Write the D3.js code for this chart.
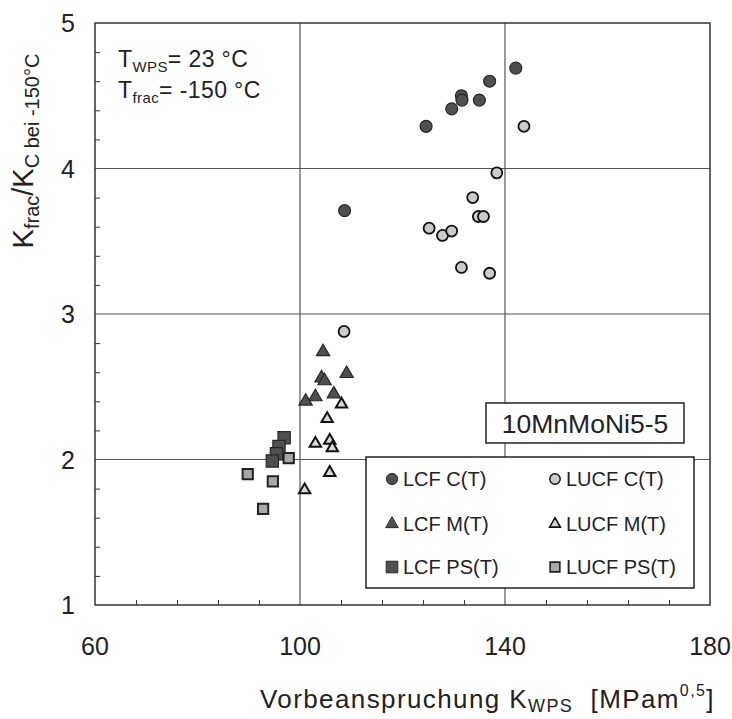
<!DOCTYPE html>
<html>
<head>
<meta charset="utf-8">
<script src="https://cdn.jsdelivr.net/npm/d3@7/dist/d3.min.js"></script>
<style>
  html, body { margin: 0; padding: 0; background: #fff; }
  svg { display: block; font-family: "Liberation Sans", Arial, Helvetica, sans-serif; }
</style>
</head>
<body>
<svg id="chart" width="732" height="719"></svg>
<script>
// ---------- data ----------
const xTicks = [60, 100, 140, 180];
const yTicks = [1, 2, 3, 4, 5];
const xMinorTicks = [68, 76, 84, 92, 108, 116, 124, 132, 148, 156, 164, 172];
const yMinorTicks = [1.2, 1.4, 1.6, 1.8, 2.2, 2.4, 2.6, 2.8, 3.2, 3.4, 3.6, 3.8, 4.2, 4.4, 4.6, 4.8];

const lcfC = [[142.1, 4.69], [137.0, 4.60], [131.5, 4.50], [131.6, 4.47], [135.0, 4.47],
              [129.6, 4.41], [124.6, 4.29], [108.7, 3.71]];
const lucfC = [[143.7, 4.29], [138.4, 3.97], [133.7, 3.80], [134.8, 3.67], [135.8, 3.67],
               [125.2, 3.59], [127.8, 3.54], [129.6, 3.57], [131.5, 3.32], [137.0, 3.28], [108.6, 2.88]];
const lcfM = [[104.5, 2.74], [109.1, 2.59], [104.2, 2.56], [104.8, 2.54], [106.6, 2.45],
              [103.0, 2.43], [101.1, 2.40]];
const lucfM = [[108.1, 2.38], [105.3, 2.28], [103.0, 2.11], [105.8, 2.13], [106.3, 2.08],
               [105.8, 1.91], [100.9, 1.79]];
const lcfPS = [[96.9, 2.15], [95.9, 2.09], [95.4, 2.04], [94.6, 1.99]];
const lucfPS = [[97.8, 2.01], [89.8, 1.90], [94.7, 1.85], [92.8, 1.66]];

const seriesNames = ["LCF C(T)", "LUCF C(T)", "LCF M(T)", "LUCF M(T)", "LCF PS(T)", "LUCF PS(T)"];
const materialLabel = "10MnMoNi5-5";

// ---------- setup ----------
const svg = d3.select("#chart");
const pL = 95, pR = 710, pT = 23, pB = 605;
const x = d3.scaleLinear().domain([60, 180]).range([pL, pR]);
const y = d3.scaleLinear().domain([1, 5]).range([pB, pT]);

const darkFill = "#4f4f4f", darkStroke = "#262626";
const lightFill = "#cbcbcb", lightStroke = "#111";

const series = [
  { name: seriesNames[0], data: lcfC,  sym: d3.symbolCircle,   size: 112, fill: darkFill,  stroke: darkStroke, sw: 1.2 },
  { name: seriesNames[1], data: lucfC, sym: d3.symbolCircle,   size: 95,  fill: lightFill, stroke: lightStroke, sw: 1.8 },
  { name: seriesNames[2], data: lcfM,  sym: d3.symbolTriangle, size: 76,  fill: darkFill,  stroke: darkStroke, sw: 1.2 },
  { name: seriesNames[3], data: lucfM, sym: d3.symbolTriangle, size: 56,  fill: "#d8d8d8", stroke: lightStroke, sw: 2 },
  { name: seriesNames[4], data: lcfPS, sym: d3.symbolSquare,   size: 150, fill: darkFill,  stroke: darkStroke, sw: 1.2 },
  { name: seriesNames[5], data: lucfPS,sym: d3.symbolSquare,   size: 105, fill: "#a8a8a8", stroke: "#222", sw: 2 }
];

// ---------- grid ----------
const grid = svg.append("g");
grid.selectAll("line.gx").data(xTicks.filter(v => v > 60 && v < 180)).join("line")
  .attr("x1", d => x(d)).attr("x2", d => x(d)).attr("y1", pT).attr("y2", pB)
  .attr("stroke", "#555").attr("stroke-width", 1.2);
grid.selectAll("line.gy").data(yTicks.filter(v => v > 1 && v < 5)).join("line")
  .attr("y1", d => y(d)).attr("y2", d => y(d)).attr("x1", pL).attr("x2", pR)
  .attr("stroke", "#555").attr("stroke-width", 1.2);

// ---------- axes ----------
const xAxis = d3.axisBottom(x).tickValues(xMinorTicks).tickSize(-5).tickFormat("");
const yAxis = d3.axisLeft(y).tickValues(yMinorTicks).tickSize(-5).tickFormat("");
const gx = svg.append("g").attr("transform", `translate(0,${pB})`).call(xAxis);
const gy = svg.append("g").attr("transform", `translate(${pL},0)`).call(yAxis);
[gx, gy].forEach(g => {
  g.select(".domain").remove();
  g.selectAll(".tick line").attr("stroke", "#333").attr("stroke-width", 1);
});

svg.append("rect").attr("x", pL).attr("y", pT).attr("width", pR - pL).attr("height", pB - pT)
  .attr("fill", "none").attr("stroke", "#333").attr("stroke-width", 1.5);

// tick labels
svg.append("g").selectAll("text").data(xTicks).join("text")
  .attr("x", d => x(d)).attr("y", 655).attr("text-anchor", "middle")
  .attr("font-size", 25).attr("fill", "#222").text(d => d);
svg.append("g").selectAll("text").data(yTicks).join("text")
  .attr("x", 75).attr("y", d => y(d)).attr("dy", "0.36em").attr("text-anchor", "end")
  .attr("font-size", 25).attr("fill", "#222").text(d => d);

// axis titles
const xt = svg.append("text").attr("x", 260).attr("y", 708)
  .attr("font-size", 26).attr("letter-spacing", 1.4).attr("fill", "#222");
xt.append("tspan").text("Vorbeanspruchung K");
xt.append("tspan").attr("font-size", 18).attr("dy", 4).text("WPS");
xt.append("tspan").attr("dy", -4).text("\u00a0\u00a0[MPam");
xt.append("tspan").attr("font-size", 16).attr("dy", -12).text("0,5");
xt.append("tspan").attr("dy", 12).text("]");

const yt = svg.append("text").attr("transform", "translate(33,151) rotate(-90)")
  .attr("text-anchor", "middle").attr("font-size", 29).attr("fill", "#222");
yt.append("tspan").text("K");
yt.append("tspan").attr("font-size", 20).attr("dy", 6).text("frac");
yt.append("tspan").attr("dy", -6).text("/K");
yt.append("tspan").attr("font-size", 20).attr("dy", 6).text("C bei -150°C");

// annotation
const a1 = svg.append("text").attr("x", 118).attr("y", 67).attr("font-size", 23)
  .attr("letter-spacing", 0.4).attr("fill", "#222");
a1.append("tspan").text("T");
a1.append("tspan").attr("font-size", 15).attr("dy", 5).text("WPS");
a1.append("tspan").attr("dy", -5).text("= 23 °C");
const a2 = svg.append("text").attr("x", 118).attr("y", 98).attr("font-size", 23)
  .attr("letter-spacing", 0.4).attr("fill", "#222");
a2.append("tspan").text("T");
a2.append("tspan").attr("font-size", 15).attr("dy", 5).text("frac");
a2.append("tspan").attr("dy", -5).text("= -150 °C");

// ---------- points ----------
series.forEach(s => {
  svg.append("g").selectAll("path").data(s.data).join("path")
    .attr("transform", d => `translate(${x(d[0])},${y(d[1])})`)
    .attr("d", d3.symbol().type(s.sym).size(s.size)())
    .attr("fill", s.fill).attr("stroke", s.stroke).attr("stroke-width", s.sw);
});

// ---------- material label ----------
svg.append("rect").attr("x", 486).attr("y", 403).attr("width", 198).attr("height", 40)
  .attr("fill", "#fff").attr("stroke", "#222").attr("stroke-width", 1.5);
svg.append("text").attr("x", 585).attr("y", 423).attr("dy", "0.36em").attr("text-anchor", "middle")
  .attr("font-size", 26.5).attr("fill", "#222").text(materialLabel);

// ---------- legend ----------
svg.append("rect").attr("x", 366).attr("y", 457).attr("width", 328).attr("height", 131)
  .attr("fill", "#fff").attr("stroke", "#222").attr("stroke-width", 1.5);
const colX = [392, 555], rowY = [479, 524, 567];
const lg = svg.append("g").selectAll("g").data(series).join("g")
  .attr("transform", (d, i) => `translate(${colX[i % 2]},${rowY[Math.floor(i / 2)]})`);
lg.append("path").attr("d", d => d3.symbol().type(d.sym).size(d.size * 0.9)())
  .attr("fill", d => d.fill).attr("stroke", d => d.stroke).attr("stroke-width", d => d.sw * 0.8);
lg.append("text").attr("x", 11).attr("dy", "0.36em").attr("font-size", 20).attr("fill", "#222")
  .text(d => d.name);
</script>
</body>
</html>
